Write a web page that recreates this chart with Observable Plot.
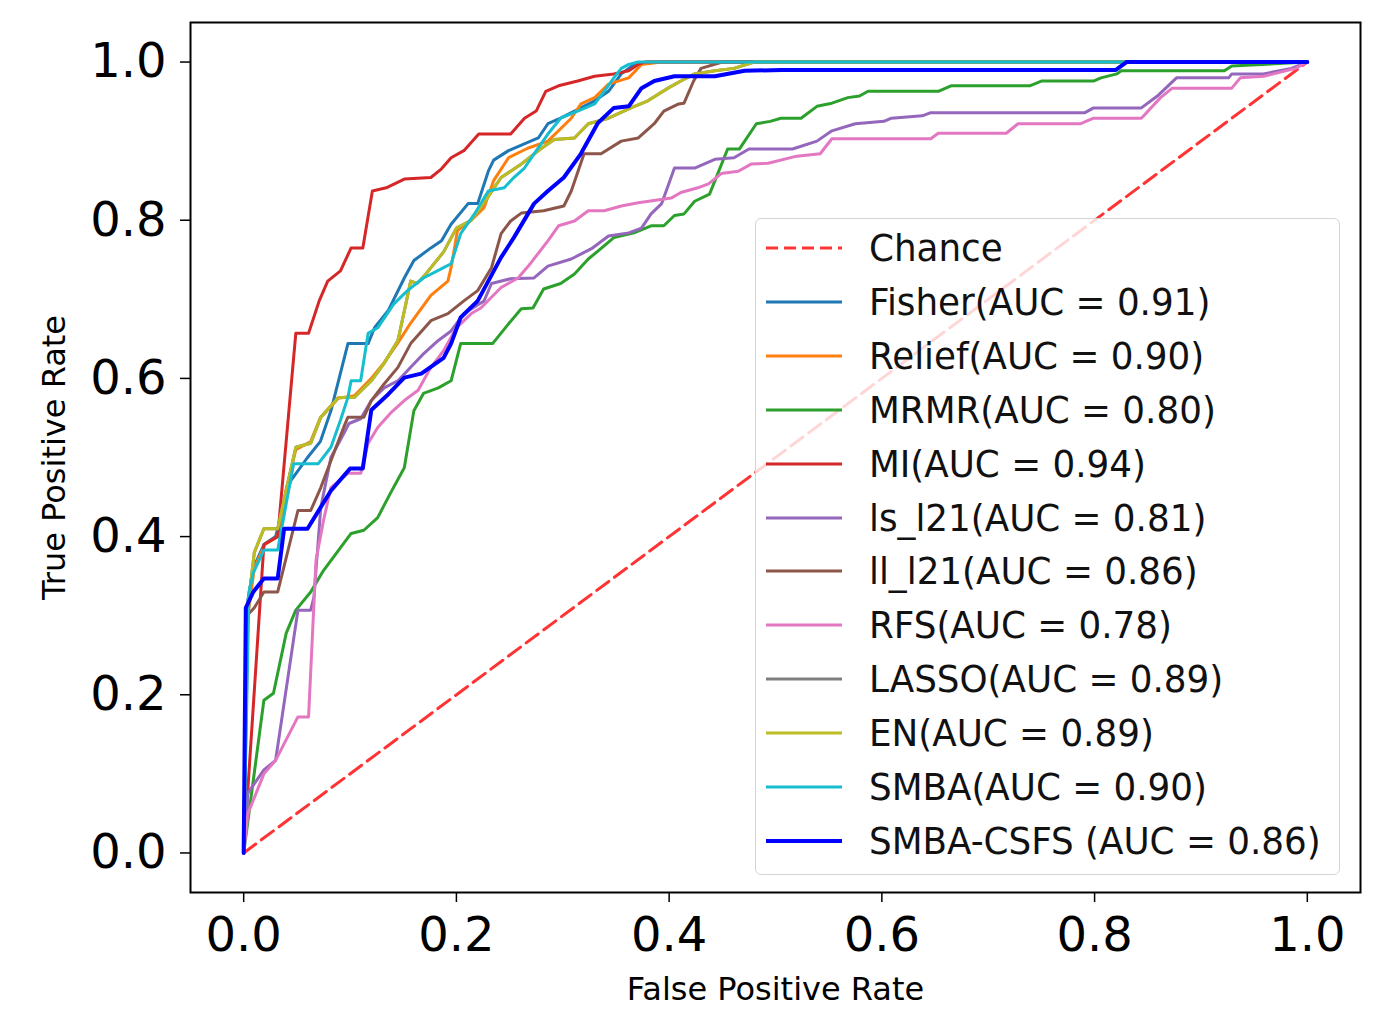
<!DOCTYPE html>
<html><head><meta charset="utf-8">
<script src="https://cdn.jsdelivr.net/npm/d3@7"></script>
<script src="https://cdn.jsdelivr.net/npm/@observablehq/plot@0.6"></script>
<style>
html,body{margin:0;padding:0;background:#fff;}
#wrap{position:relative;width:1389px;height:1014px;overflow:hidden;}
#legend{position:absolute;left:755px;top:218px;width:585px;height:657px;box-sizing:border-box;border:1.5px solid #d4d4d4;border-radius:6px;background:rgba(255,255,255,0.8);font-family:"DejaVu Sans",sans-serif;}
.row{position:absolute;left:8px;height:54px;display:flex;align-items:center;white-space:nowrap;}
.row svg{width:80px;height:10px;margin-right:25px;}
.row span{display:inline-block;font-size:38px;color:#111;transform:scaleX(0.94);transform-origin:left center;}
</style></head>
<body><div id="wrap"><div id="chart"></div><div id="legend"></div></div>
<script>
// ---- data: [false positive rate, true positive rate]
const methods = ["Fisher","Relief","MRMR","MI","ls_l21","ll_l21","RFS","LASSO","EN","SMBA","SMBA-CSFS"];
const labels = ["Fisher(AUC = 0.91)","Relief(AUC = 0.90)","MRMR(AUC = 0.80)","MI(AUC = 0.94)","ls_l21(AUC = 0.81)","ll_l21(AUC = 0.86)","RFS(AUC = 0.78)","LASSO(AUC = 0.89)","EN(AUC = 0.89)","SMBA(AUC = 0.90)","SMBA-CSFS (AUC = 0.86)"];
const chanceLabel = "Chance";
const chance = [[0,0],[1,1]];
const xTicks = [0,0.2,0.4,0.6,0.8,1.0];
const yTicks = [0,0.2,0.4,0.6,0.8,1.0];

const fisher = [[0,0],[0.004,0.32],[0.009,0.36],[0.019,0.39],[0.03,0.40],[0.044,0.47],[0.06,0.50],[0.072,0.52],[0.082,0.559],[0.098,0.644],[0.117,0.644],[0.123,0.664],[0.136,0.686],[0.151,0.727],[0.16,0.749],[0.176,0.765],[0.186,0.774],[0.195,0.795],[0.211,0.821],[0.22,0.821],[0.23,0.862],[0.235,0.876],[0.249,0.888],[0.277,0.904],[0.286,0.922],[0.298,0.929],[0.317,0.942],[0.33,0.951],[0.343,0.963],[0.355,0.985],[0.367,0.997],[0.38,1.0],[1,1]];
const relief = [[0,0],[0.004,0.30],[0.01,0.36],[0.02,0.39],[0.032,0.40],[0.04,0.46],[0.049,0.51],[0.063,0.52],[0.072,0.55],[0.089,0.575],[0.104,0.578],[0.12,0.60],[0.132,0.62],[0.145,0.645],[0.157,0.67],[0.176,0.705],[0.192,0.723],[0.195,0.74],[0.201,0.787],[0.214,0.80],[0.226,0.816],[0.235,0.85],[0.249,0.879],[0.267,0.891],[0.286,0.90],[0.308,0.929],[0.317,0.947],[0.33,0.955],[0.343,0.972],[0.362,0.98],[0.374,0.997],[0.393,1.0],[1,1]];
const mrmr = [[0,0],[0.019,0.193],[0.028,0.202],[0.04,0.278],[0.049,0.307],[0.063,0.33],[0.075,0.357],[0.101,0.404],[0.113,0.408],[0.126,0.424],[0.138,0.455],[0.151,0.487],[0.16,0.559],[0.169,0.581],[0.183,0.588],[0.195,0.597],[0.204,0.644],[0.234,0.644],[0.249,0.669],[0.261,0.688],[0.272,0.689],[0.282,0.713],[0.298,0.72],[0.311,0.732],[0.324,0.751],[0.333,0.761],[0.348,0.778],[0.367,0.784],[0.383,0.793],[0.395,0.793],[0.405,0.806],[0.414,0.808],[0.424,0.824],[0.438,0.833],[0.455,0.89],[0.466,0.89],[0.482,0.922],[0.495,0.925],[0.505,0.929],[0.524,0.929],[0.539,0.944],[0.553,0.948],[0.568,0.955],[0.579,0.957],[0.587,0.963],[0.653,0.963],[0.665,0.97],[0.739,0.97],[0.75,0.976],[0.799,0.976],[0.806,0.98],[0.821,0.985],[0.825,0.989],[0.922,0.989],[0.929,0.995],[1,1]];
const mi = [[0,0],[0.019,0.39],[0.032,0.40],[0.049,0.657],[0.061,0.657],[0.071,0.698],[0.079,0.723],[0.091,0.736],[0.101,0.765],[0.112,0.765],[0.121,0.837],[0.134,0.841],[0.151,0.852],[0.176,0.854],[0.186,0.865],[0.195,0.879],[0.207,0.888],[0.221,0.909],[0.251,0.909],[0.264,0.929],[0.275,0.938],[0.284,0.963],[0.296,0.97],[0.314,0.976],[0.33,0.982],[0.348,0.985],[0.362,0.989],[0.371,0.997],[0.377,1.0],[1,1]];
const lsL21 = [[0,0],[0.004,0.076],[0.019,0.105],[0.03,0.117],[0.051,0.307],[0.063,0.307],[0.066,0.323],[0.0725,0.437],[0.082,0.50],[0.094,0.53],[0.099,0.543],[0.11,0.549],[0.12,0.572],[0.132,0.588],[0.145,0.597],[0.157,0.614],[0.169,0.631],[0.183,0.648],[0.195,0.66],[0.207,0.682],[0.226,0.698],[0.233,0.72],[0.251,0.726],[0.273,0.727],[0.286,0.742],[0.308,0.751],[0.327,0.764],[0.343,0.78],[0.362,0.784],[0.374,0.79],[0.383,0.808],[0.393,0.821],[0.405,0.866],[0.424,0.866],[0.443,0.877],[0.461,0.879],[0.475,0.89],[0.516,0.89],[0.539,0.90],[0.553,0.913],[0.575,0.922],[0.602,0.925],[0.609,0.929],[0.638,0.932],[0.646,0.936],[0.791,0.936],[0.799,0.942],[0.844,0.942],[0.859,0.957],[0.877,0.98],[0.926,0.98],[0.929,0.985],[0.959,0.985],[0.985,0.992],[1,1]];
const llL21 = [[0,0],[0.003,0.30],[0.01,0.31],[0.019,0.33],[0.032,0.33],[0.051,0.433],[0.063,0.433],[0.0725,0.462],[0.082,0.496],[0.094,0.538],[0.098,0.551],[0.113,0.551],[0.12,0.572],[0.132,0.593],[0.145,0.614],[0.157,0.644],[0.176,0.673],[0.192,0.682],[0.207,0.698],[0.22,0.711],[0.233,0.74],[0.242,0.783],[0.251,0.799],[0.261,0.809],[0.282,0.812],[0.301,0.818],[0.308,0.837],[0.32,0.884],[0.336,0.884],[0.355,0.90],[0.371,0.904],[0.386,0.922],[0.395,0.938],[0.409,0.947],[0.414,0.948],[0.423,0.976],[0.43,0.992],[0.45,1.0],[1,1]];
const rfs = [[0,0],[0.004,0.05],[0.019,0.10],[0.03,0.117],[0.051,0.172],[0.061,0.172],[0.068,0.37],[0.075,0.42],[0.082,0.462],[0.098,0.48],[0.11,0.48],[0.117,0.518],[0.126,0.538],[0.138,0.556],[0.151,0.572],[0.164,0.585],[0.176,0.614],[0.188,0.635],[0.20,0.664],[0.214,0.682],[0.223,0.689],[0.242,0.715],[0.258,0.727],[0.27,0.746],[0.286,0.774],[0.296,0.793],[0.311,0.799],[0.324,0.812],[0.339,0.812],[0.355,0.818],[0.371,0.822],[0.402,0.828],[0.411,0.835],[0.427,0.841],[0.437,0.846],[0.449,0.859],[0.465,0.862],[0.477,0.871],[0.493,0.872],[0.52,0.881],[0.542,0.884],[0.553,0.903],[0.646,0.903],[0.653,0.91],[0.717,0.91],[0.728,0.922],[0.787,0.922],[0.799,0.929],[0.844,0.929],[0.862,0.955],[0.873,0.967],[0.929,0.967],[0.937,0.98],[0.959,0.982],[0.989,0.992],[1,1]];
const lasso = [[0,0],[0.003,0.30],[0.01,0.38],[0.019,0.41],[0.032,0.41],[0.049,0.513],[0.063,0.518],[0.0725,0.551],[0.089,0.576],[0.104,0.576],[0.12,0.597],[0.132,0.619],[0.145,0.648],[0.151,0.685],[0.157,0.723],[0.163,0.72],[0.17,0.73],[0.188,0.76],[0.20,0.79],[0.214,0.80],[0.23,0.83],[0.242,0.854],[0.26,0.87],[0.28,0.891],[0.292,0.902],[0.311,0.904],[0.324,0.922],[0.343,0.929],[0.364,0.942],[0.38,0.951],[0.399,0.967],[0.411,0.976],[0.424,0.985],[0.443,0.989],[0.461,0.992],[0.48,1.0],[1,1]];
const en = [[0,0],[0.003,0.30],[0.01,0.38],[0.019,0.41],[0.032,0.41],[0.049,0.513],[0.063,0.518],[0.0725,0.551],[0.089,0.576],[0.104,0.576],[0.12,0.597],[0.132,0.619],[0.145,0.648],[0.151,0.685],[0.157,0.723],[0.163,0.72],[0.17,0.73],[0.188,0.76],[0.20,0.79],[0.214,0.80],[0.23,0.83],[0.242,0.854],[0.26,0.87],[0.28,0.891],[0.292,0.902],[0.311,0.904],[0.324,0.922],[0.343,0.929],[0.364,0.942],[0.38,0.951],[0.399,0.967],[0.411,0.976],[0.424,0.985],[0.443,0.989],[0.461,0.992],[0.48,1.0],[1,1]];
const smba = [[0,0],[0.005,0.33],[0.009,0.354],[0.019,0.383],[0.032,0.383],[0.044,0.471],[0.047,0.492],[0.07,0.492],[0.082,0.513],[0.091,0.547],[0.098,0.576],[0.101,0.597],[0.11,0.597],[0.117,0.657],[0.126,0.664],[0.141,0.694],[0.154,0.711],[0.169,0.727],[0.188,0.74],[0.195,0.745],[0.204,0.783],[0.217,0.808],[0.23,0.837],[0.245,0.841],[0.254,0.854],[0.264,0.866],[0.273,0.884],[0.286,0.909],[0.298,0.929],[0.314,0.938],[0.33,0.947],[0.339,0.963],[0.348,0.98],[0.355,0.992],[0.362,0.997],[0.371,1.0],[1,1]];
const smbaCsfs = [[0,0],[0.002,0.31],[0.009,0.33],[0.019,0.347],[0.032,0.347],[0.038,0.41],[0.06,0.41],[0.082,0.458],[0.10,0.486],[0.112,0.486],[0.12,0.56],[0.136,0.58],[0.151,0.601],[0.167,0.606],[0.188,0.626],[0.195,0.644],[0.204,0.677],[0.22,0.698],[0.242,0.753],[0.254,0.778],[0.273,0.821],[0.286,0.837],[0.301,0.854],[0.317,0.884],[0.333,0.923],[0.348,0.942],[0.362,0.944],[0.374,0.967],[0.386,0.976],[0.405,0.982],[0.443,0.982],[0.471,0.989],[0.506,0.99],[0.82,0.99],[0.83,1.0],[1,1]];

const curves = [fisher, relief, mrmr, mi, lsL21, llL21, rfs, lasso, en, smba, smbaCsfs];

// ---- styles
const colors = ["#1f77b4","#ff7f0e","#2ca02c","#d62728","#9467bd","#8c564b","#e377c2","#7f7f7f","#bcbd22","#17becf","#0000ff"];
const widths = [3,3,3,3,3,3,3,3,3,3,4];
const chanceColor = "#ff0000";

const W = 1389, H = 1014;
const marks = [];
marks.push(Plot.line(chance, {x: d => d[0], y: d => d[1], stroke: chanceColor, strokeOpacity: 0.8, strokeWidth: 3, strokeDasharray: "15,7"}));
curves.forEach((c, i) => {
  marks.push(Plot.line(c, {x: d => d[0], y: d => d[1], stroke: colors[i], strokeWidth: widths[i], strokeLinejoin: "round"}));
});
marks.push(Plot.frame({stroke: "#000", strokeWidth: 2}));
marks.push(Plot.axisX({ticks: xTicks, tickFormat: d3.format(".1f"), tickSize: 10, tickPadding: 14, fontSize: 48, label: null, stroke: "#000", strokeWidth: 1.5}));
marks.push(Plot.axisY({ticks: yTicks, tickFormat: d3.format(".1f"), tickSize: 10, tickPadding: 14, fontSize: 48, label: null, stroke: "#000", strokeWidth: 1.5}));
marks.push(Plot.axisX({ticks: [], label: "False Positive Rate", labelAnchor: "center", labelArrow: "none", labelOffset: 107, fontSize: 32, tickSize: 0}));
marks.push(Plot.axisY({ticks: [], label: "True Positive Rate", labelAnchor: "center", labelArrow: "none", labelOffset: 148, fontSize: 32, tickSize: 0}));

const chart = Plot.plot({
  width: W, height: H,
  marginLeft: 190, marginRight: 29, marginTop: 22, marginBottom: 122,
  x: {domain: [-0.05, 1.05]},
  y: {domain: [-0.05, 1.05]},
  style: {fontFamily: "DejaVu Sans", color: "#000", background: "#fff"},
  marks
});
document.getElementById("chart").appendChild(chart);

// ---- legend (overlay inside the axes, like matplotlib's)
const legend = document.getElementById("legend");
const entries = [{label: chanceLabel, color: chanceColor, dash: true, w: 3}].concat(labels.map((l, i) => ({label: l, color: colors[i], dash: false, w: widths[i]})));
entries.forEach((e, i) => {
  const row = document.createElement("div");
  row.className = "row";
  row.style.top = (2 + i * 53.9) + "px";
  row.innerHTML = `<svg viewBox="0 0 80 10"><line x1="2" x2="78" y1="5" y2="5" stroke="${e.color}" stroke-width="${e.w}" ${e.dash ? 'stroke-dasharray="12,6" stroke-opacity="0.8"' : ''}/></svg><span></span>`;
  row.querySelector("span").textContent = e.label;
  legend.appendChild(row);
});
</script>
</body></html>
